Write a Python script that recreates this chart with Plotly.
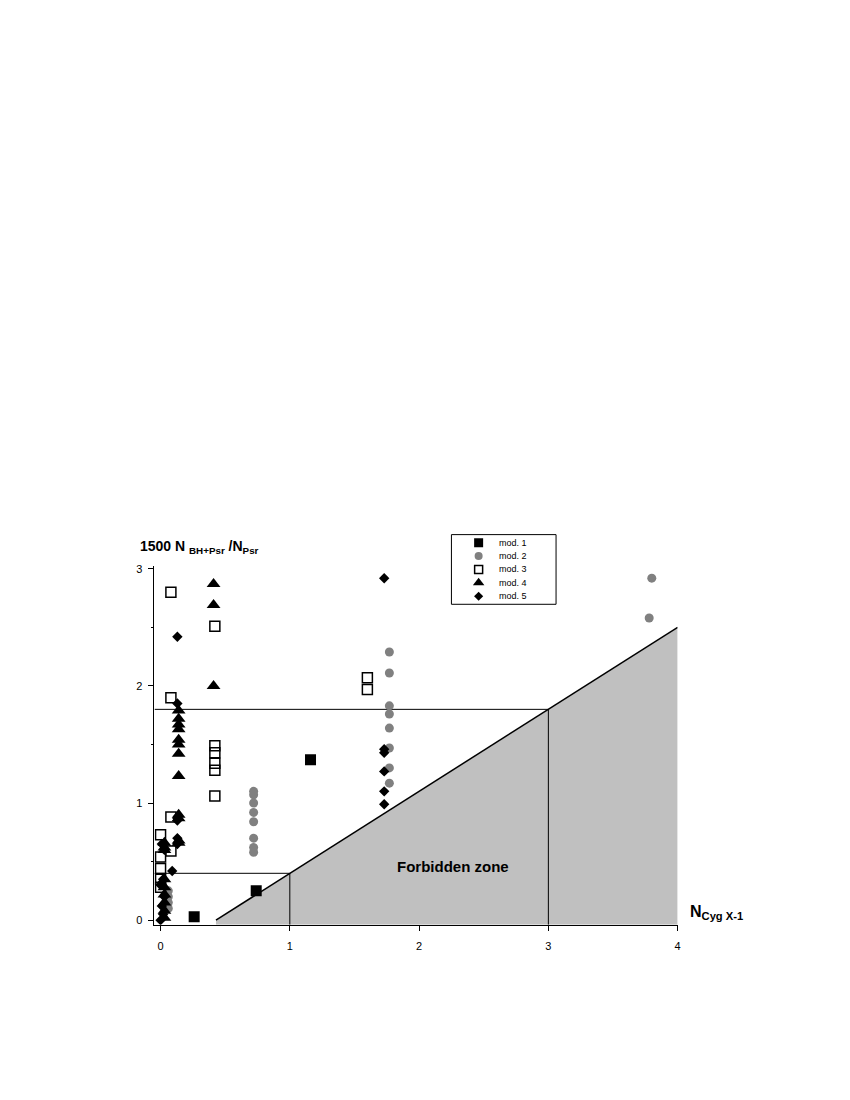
import plotly.graph_objects as go

# data
mod1_x = [0.26, 0.74, 1.16]
mod1_y = [0.03, 0.25, 1.37]

mod2_x = [0.72] * 8 + [0.06] * 4 + [1.77] * 8 + [3.80, 3.78]
mod2_y = [1.10, 1.07, 1.00, 0.92, 0.84, 0.70, 0.62, 0.58,
          0.25, 0.20, 0.15, 0.10,
          2.29, 2.11, 1.83, 1.76, 1.64, 1.47, 1.30, 1.17,
          2.92, 2.58]

mod3_x = [0.08] * 4 + [0.42] * 6 + [1.60] * 2 + [0.0] * 5
mod3_y = [2.80, 1.90, 0.88, 0.59,
          2.51, 1.49, 1.43, 1.34, 1.28, 1.06,
          2.07, 1.97,
          0.73, 0.54, 0.44, 0.35, 0.28]

mod4_x = [0.41] * 3 + [0.14] * 12 + [0.03] * 9
mod4_y = [2.87, 2.69, 2.00,
          1.79, 1.72, 1.67, 1.63, 1.54, 1.50, 1.42, 1.23, 0.90, 0.87, 0.68, 0.66,
          0.66, 0.62, 0.60, 0.35, 0.28, 0.22, 0.15, 0.08, 0.02]

mod5_x = [0.13] * 6 + [0.09] + [1.73] * 6 + [0.01, 0.03, 0.02, 0.0, 0.03, 0.01, 0.02, 0.0]
mod5_y = [2.42, 1.85, 0.87, 0.85, 0.70, 0.65,
          0.42,
          2.92, 1.46, 1.43, 1.27, 1.10, 0.99,
          0.65, 0.60, 0.35, 0.30, 0.20, 0.12, 0.05, 0.0]

model_names = ["mod. 1", "mod. 2", "mod. 3", "mod. 4", "mod. 5"]

x_min, x_max = -0.047, 4.0
y_min, y_max = -0.04, 3.02

# forbidden zone boundary: y = 0.7 x - 0.3
x_start = 0.3 / 0.7
zone_x = [x_start, x_start, 4, 4, x_start]
zone_y = [y_min, 0, 2.5, y_min, y_min]

W, H, OFF = 850, 1100, 8  # page size, body margin of the html page


def dom_x(a, b):
    return [(a - OFF) / W, (b - OFF) / W]


def dom_y(top, bottom):
    return [1 - (bottom - OFF) / H, 1 - (top - OFF) / H]


styles = [
    dict(symbol="square", size=11, color="black"),
    dict(symbol="circle", size=9, color="#808080"),
    dict(symbol="square-open", size=10, color="black", line=dict(width=1.5)),
    dict(symbol="triangle-up", size=12, color="black"),
    dict(symbol="diamond", size=8, color="black"),
]
legend_styles = [
    dict(symbol="square", size=9, color="black"),
    dict(symbol="circle", size=8, color="#808080"),
    dict(symbol="square-open", size=8, color="black", line=dict(width=1.5)),
    dict(symbol="triangle-up", size=10, color="black"),
    dict(symbol="diamond", size=7, color="black"),
]

fig = go.Figure()

fig.add_trace(go.Scatter(x=zone_x, y=zone_y, mode="none", fill="toself",
                         fillcolor="#c0c0c0", showlegend=False, hoverinfo="skip"))
fig.add_trace(go.Scatter(x=zone_x[1:3], y=zone_y[1:3], mode="lines",
                         line=dict(color="black", width=1.5), showlegend=False))
# guide lines
for xv, yv in [(1, 0.4), (3, 1.8)]:
    fig.add_trace(go.Scatter(x=[x_min, xv, xv], y=[yv, yv, y_min], mode="lines",
                             line=dict(color="black", width=1), showlegend=False))

series = [(mod1_x, mod1_y), (mod2_x, mod2_y), (mod3_x, mod3_y),
          (mod4_x, mod4_y), (mod5_x, mod5_y)]
for (xs, ys), name, st in zip(series, model_names, styles):
    fig.add_trace(go.Scatter(x=xs, y=ys, mode="markers", name=name,
                             marker=st, showlegend=False))

# legend box drawn on its own small axes (row index 0..4)
for i, (name, st) in enumerate(zip(model_names, legend_styles)):
    fig.add_trace(go.Scatter(x=[0.26], y=[i], mode="markers", marker=st,
                             xaxis="x2", yaxis="y2", showlegend=False))
    fig.add_annotation(x=0.44, y=i, xref="x2", yref="y2", text=name,
                       xanchor="left", showarrow=False,
                       font=dict(size=9, color="black"))
fig.add_shape(type="rect", xref="x2 domain", yref="y2 domain",
              x0=0, x1=1, y0=0, y1=1, line=dict(color="black", width=1))

fig.add_annotation(x=2.26, y=0.46, text="<b>Forbidden zone</b>", showarrow=False,
                   font=dict(size=15, color="black"))
fig.add_annotation(xref="paper", yref="paper", x=(138 - OFF) / W,
                   y=1 - (545 - OFF) / H, xanchor="left",
                   text="<b>1500 N <sub>BH+Psr</sub> /N<sub>Psr</sub></b>",
                   showarrow=False, font=dict(size=14, color="black"))
fig.add_annotation(xref="paper", yref="paper", x=(690 - OFF) / W,
                   y=1 - (924 - OFF) / H, xanchor="left",
                   text="<b>N<sub>Cyg X-1</sub></b>",
                   showarrow=False, font=dict(size=16, color="black"))

fig.update_layout(
    width=W, height=H,
    margin=dict(l=0, r=0, t=0, b=0),
    plot_bgcolor="white", paper_bgcolor="white",
    font=dict(family="Liberation Sans, Arial, sans-serif", color="black"),
    showlegend=False,
    xaxis=dict(domain=dom_x(155, 680), range=[x_min, x_max],
               tickvals=[0, 1, 2, 3, 4], showgrid=False, zeroline=False,
               showline=True, linecolor="black", linewidth=1,
               ticks="outside", ticklen=5, tickcolor="black",
               ticklabelstandoff=6, tickfont=dict(size=11, color="black")),
    yaxis=dict(domain=dom_y(565, 925), range=[y_min, y_max],
               tickvals=[0, 1, 2, 3], showgrid=False, zeroline=False,
               showline=True, linecolor="black", linewidth=1,
               ticks="outside", ticklen=5, tickcolor="black",
               ticklabelstandoff=4, tickfont=dict(size=11, color="black"),
               minor=dict(tickvals=[0.5, 1.5, 2.5], ticks="outside", ticklen=2,
                          tickcolor="black")),
    xaxis2=dict(domain=dom_x(453, 558), range=[0, 1], visible=False,
                anchor="y2", fixedrange=True),
    yaxis2=dict(domain=dom_y(533, 603), range=[4.6, -0.6], visible=False,
                anchor="x2", fixedrange=True),
)

fig.write_html("out.html")
